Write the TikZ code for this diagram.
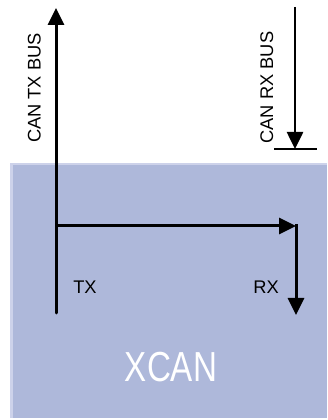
\documentclass[tikz,border=0pt]{standalone}
\usepackage{fontspec}
\setmainfont{Liberation Sans}
\usetikzlibrary{arrows.meta}
\definecolor{boxfill}{HTML}{AEB8DA}
\definecolor{boxedge}{HTML}{CDD2EA}
\tikzset{
  lbl/.style={inner sep=0pt, anchor=base, font=\fontsize{18.3}{20}\selectfont},
  wire/.style={line width=3pt, black},
  buswire/.style={line width=2.6pt, black},
  tip/.style={-{Triangle[length=17pt,width=16pt]}}
}
\begin{document}
\begin{tikzpicture}[x=1pt,y=1pt]
\useasboundingbox (0,0) rectangle (327,420);
% XCAN block
\fill[boxedge] (10,2) rectangle (327,257);
\fill[boxfill] (12.7,2) rectangle (327,254.7);
% coordinates
\coordinate (txbot) at (56,107);
\coordinate (txtop) at (56,412);
\coordinate (junc) at (56,194);
\coordinate (rxcorner) at (296,194);
\coordinate (rxcornertop) at (296,195.5);
\coordinate (rxend) at (296,105);
\coordinate (rxbustop) at (295,413);
\coordinate (rxbusend) at (295,271);
\coordinate (barl) at (274,271);
\coordinate (barr) at (317,271);
% TX bus
\draw[wire, tip, line cap=round] (txbot) -- (txtop);
% loopback
\draw[wire, tip] (junc) -- (rxcorner);
\draw[wire, tip] (rxcornertop) -- (rxend);
% RX bus
\draw[buswire, tip] (rxbustop) -- (rxbusend);
\draw[buswire] (barl) -- (barr);
% labels
\node[lbl, rotate=90] (cantx) at (40.5,332) {CAN TX BUS};
\node[lbl, rotate=90] (canrx) at (273,332.5) {CAN RX BUS};
\node[lbl] (tx) at (85,126.7) {TX};
\node[lbl] (rx) at (266,126.7) {RX};
\node[lbl, xscale=0.79, text=white, font=\fontsize{42}{44}\selectfont] (xcan) at (171,38) {XCAN};
\end{tikzpicture}
\end{document}
